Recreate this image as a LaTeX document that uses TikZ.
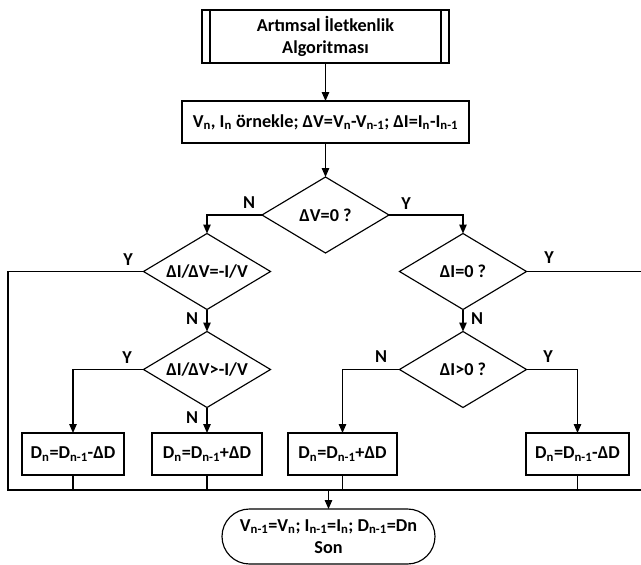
\documentclass[tikz,border=0pt]{standalone}
\usepackage{fontspec}
\setmainfont{Carlito}
\usetikzlibrary{shapes.geometric,shapes.misc,arrows.meta}
\newcommand{\sbs}[1]{\textsubscript{#1}}
\begin{document}
\begin{tikzpicture}[x=1pt,y=-1pt,
  every node/.style={font=\fontsize{18.2}{22.5}\selectfont\bfseries, inner sep=0pt, outer sep=0pt},
  ln/.style={line width=1.15pt},
  arr/.style={ln,-{Triangle[length=9pt,width=7.5pt]}},
  box/.style={draw,ln,rectangle,minimum height=42pt},
  dec/.style={draw,ln,diamond,minimum width=127pt,minimum height=76pt,aspect=1.67}]
\useasboundingbox (0,0) rectangle (641,565);
% nodes
\node[box,minimum width=247pt,minimum height=53pt,align=center] (start) at (325.5,36.5) {Artımsal İletkenlik\\Algoritması};
\draw[ln] ([xshift=8pt]start.north west) -- ([xshift=8pt]start.south west);
\draw[ln] ([xshift=-8pt]start.north east) -- ([xshift=-8pt]start.south east);
\node[box,minimum width=287pt] (samp) at (325.5,122) {V\sbs{n}, I\sbs{n} örnekle; ΔV=V\sbs{n}-V\sbs{n-1}; ΔI=I\sbs{n}-I\sbs{n-1}};
\node[dec] (q1) at (325.5,215) {ΔV=0 ?};
\node[dec] (q2) at (207,271.5) {ΔI/ΔV=-I/V};
\node[dec] (q3) at (207,369.5) {ΔI/ΔV>-I/V};
\node[dec] (q4) at (463,271.5) {ΔI=0 ?};
\node[dec] (q5) at (463,369.5) {ΔI>0 ?};
\node[box,minimum width=102pt] (b1) at (73,454) {D\sbs{n}=D\sbs{n-1}-ΔD};
\node[box,minimum width=110pt] (b2) at (207,454) {D\sbs{n}=D\sbs{n-1}+ΔD};
\node[box,minimum width=109pt] (b3) at (342.5,454) {D\sbs{n}=D\sbs{n-1}+ΔD};
\node[box,minimum width=103pt] (b4) at (577.5,454) {D\sbs{n}=D\sbs{n-1}-ΔD};
\node[draw,ln,rounded rectangle,minimum width=213pt,minimum height=55pt,align=center] (end) at (328.5,536.5) {V\sbs{n-1}=V\sbs{n}; I\sbs{n-1}=I\sbs{n}; D\sbs{n-1}=Dn\\Son};
% connectors
\draw[arr] (start) -- (samp);
\draw[arr] (samp) -- (q1);
\draw[arr] (q1.west) -| (q2.north);
\draw[arr] (q1.east) -| (q4.north);
\draw[arr] (q2) -- (q3);
\draw[arr] (q4) -- (q5);
\draw[arr] (q3) -- (b2);
\draw[arr] (q3.west) -| (b1.north);
\draw[arr] (q5.west) -| (b3.north);
\draw[arr] (q5.east) -| (b4.north);
\coordinate (jl) at (8,490);
\coordinate (jr) at (643,490);
\draw[ln] (q2.west) -| (jl) -- (jr) |- (q4.east);
\foreach \b in {b1,b2,b3,b4} \draw[ln] (\b.south) -- (\b.south |- jl);
\coordinate (jt) at (end.north |- jl);
\draw[arr] (jt) -- (end.north);
% labels
\node (l1) at (249,203) {N};
\node (l2) at (406,204) {Y};
\node (l3) at (128,260) {Y};
\node (l4) at (192,319) {N};
\node (l5) at (127,358) {Y};
\node (l6) at (192,418) {N};
\node (l7) at (549,258) {Y};
\node (l8) at (477,319) {N};
\node (l9) at (381,357) {N};
\node (l10) at (548,357) {Y};
\end{tikzpicture}
\end{document}
